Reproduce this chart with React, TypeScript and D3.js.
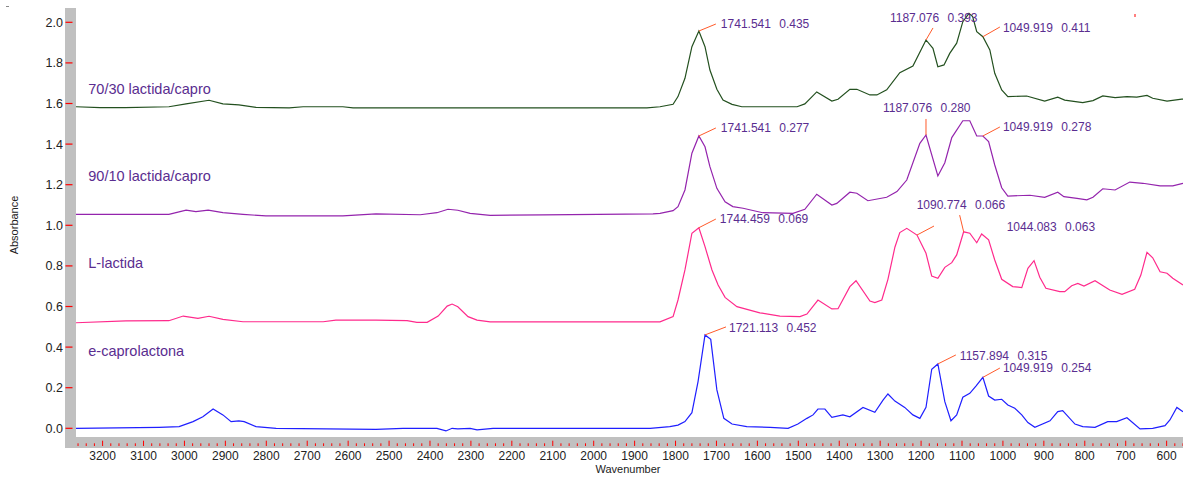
import * as d3 from 'd3';

// FTIR spectra, [wavenumber, absorbance]
const spectrum7030: [number, number][] = [
  [3265, 1.584], [3206, 1.580], [3145, 1.580], [3038, 1.584], [2996, 1.598], [2940, 1.616], [2906, 1.598],
  [2867, 1.593], [2825, 1.581], [2744, 1.578], [2710, 1.584], [2613, 1.584], [2588, 1.578], [1870, 1.578],
  [1838, 1.584], [1806, 1.596], [1794, 1.634], [1777, 1.724], [1760, 1.880], [1743, 1.957], [1728, 1.880],
  [1716, 1.765], [1699, 1.670], [1684, 1.617], [1662, 1.596], [1638, 1.584], [1503, 1.584], [1484, 1.598],
  [1455, 1.657], [1418, 1.612], [1403, 1.621], [1374, 1.670], [1357, 1.670], [1325, 1.642], [1308, 1.642],
  [1284, 1.667], [1252, 1.752], [1220, 1.785], [1188, 1.913], [1171, 1.872], [1159, 1.781], [1144, 1.790],
  [1130, 1.847], [1113, 1.897], [1098, 2.003], [1083, 2.044], [1074, 2.028], [1064, 1.954], [1049, 1.929],
  [1032, 1.864], [1020, 1.749], [1003, 1.667], [988, 1.634], [942, 1.637], [898, 1.612], [866, 1.631],
  [849, 1.617], [805, 1.604], [780, 1.614], [756, 1.637], [726, 1.629], [697, 1.634], [673, 1.631],
  [648, 1.640], [634, 1.626], [599, 1.612], [563, 1.622], [560, 1.622],
];

const spectrum9010: [number, number][] = [
  [3265, 1.054], [3038, 1.054], [2996, 1.075], [2972, 1.067], [2942, 1.075], [2906, 1.062], [2857, 1.054],
  [2801, 1.046], [2613, 1.046], [2532, 1.056], [2424, 1.052], [2383, 1.062], [2356, 1.079], [2332, 1.074],
  [2302, 1.059], [2253, 1.049], [2124, 1.051], [1855, 1.056], [1838, 1.059], [1806, 1.072], [1794, 1.092],
  [1777, 1.174], [1760, 1.355], [1743, 1.440], [1728, 1.387], [1716, 1.289], [1699, 1.182], [1679, 1.116],
  [1660, 1.092], [1635, 1.084], [1587, 1.062], [1513, 1.059], [1484, 1.079], [1455, 1.153], [1418, 1.100],
  [1406, 1.108], [1374, 1.163], [1357, 1.158], [1330, 1.121], [1284, 1.138], [1259, 1.166], [1235, 1.223],
  [1203, 1.404], [1188, 1.445], [1159, 1.243], [1142, 1.308], [1125, 1.432], [1098, 1.515], [1081, 1.515],
  [1064, 1.440], [1049, 1.440], [1035, 1.412], [1020, 1.297], [1003, 1.185], [988, 1.144], [934, 1.148],
  [898, 1.138], [866, 1.163], [851, 1.141], [819, 1.133], [795, 1.125], [780, 1.138], [756, 1.180],
  [726, 1.174], [690, 1.213], [658, 1.207], [616, 1.194], [585, 1.194], [560, 1.207],
];

const spectrumLactida: [number, number][] = [
  [3265, 0.520], [3143, 0.529], [3038, 0.530], [3003, 0.553], [2967, 0.542], [2940, 0.552], [2906, 0.537],
  [2857, 0.525], [2661, 0.525], [2630, 0.533], [2532, 0.533], [2456, 0.530], [2432, 0.522], [2407, 0.522],
  [2380, 0.553], [2358, 0.602], [2346, 0.612], [2332, 0.599], [2307, 0.550], [2285, 0.533], [2253, 0.524],
  [1838, 0.524], [1806, 0.550], [1794, 0.632], [1777, 0.780], [1760, 0.961], [1743, 0.988], [1728, 0.895],
  [1711, 0.780], [1696, 0.706], [1679, 0.645], [1650, 0.599], [1594, 0.569], [1545, 0.553], [1496, 0.550],
  [1479, 0.563], [1452, 0.632], [1418, 0.588], [1403, 0.589], [1374, 0.698], [1359, 0.727], [1325, 0.627],
  [1313, 0.619], [1296, 0.632], [1281, 0.734], [1264, 0.892], [1252, 0.964], [1235, 0.985], [1210, 0.952],
  [1188, 0.862], [1174, 0.750], [1159, 0.739], [1142, 0.793], [1125, 0.816], [1113, 0.854], [1096, 0.968],
  [1081, 0.961], [1064, 0.914], [1052, 0.957], [1035, 0.928], [1020, 0.829], [1003, 0.734], [976, 0.698],
  [954, 0.693], [939, 0.788], [924, 0.826], [910, 0.744], [895, 0.690], [861, 0.673], [849, 0.673],
  [832, 0.702], [817, 0.714], [802, 0.701], [775, 0.727], [739, 0.681], [709, 0.660], [678, 0.685],
  [663, 0.755], [648, 0.867], [634, 0.840], [616, 0.771], [599, 0.764], [585, 0.739], [560, 0.706],
];

const spectrumCapro: [number, number][] = [
  [3265, 0.000], [3062, 0.005], [3013, 0.008], [2979, 0.033], [2955, 0.057], [2930, 0.095], [2906, 0.066],
  [2886, 0.033], [2867, 0.037], [2854, 0.033], [2825, 0.008], [2776, 0.000], [2532, -0.005], [2466, 0.000],
  [2383, 0.000], [2361, -0.013], [2346, 0.000], [2332, -0.003], [2302, 0.000], [2285, -0.008], [2246, 0.000],
  [1862, 0.000], [1814, 0.008], [1794, 0.016], [1777, 0.033], [1760, 0.077], [1745, 0.230], [1728, 0.460],
  [1714, 0.438], [1699, 0.189], [1682, 0.049], [1662, 0.021], [1626, 0.008], [1569, 0.005], [1525, 0.000],
  [1501, 0.021], [1479, 0.049], [1464, 0.066], [1452, 0.095], [1435, 0.095], [1418, 0.054], [1391, 0.066],
  [1374, 0.057], [1342, 0.103], [1313, 0.079], [1293, 0.139], [1281, 0.169], [1264, 0.134], [1240, 0.103],
  [1220, 0.066], [1203, 0.049], [1188, 0.103], [1174, 0.291], [1159, 0.317], [1142, 0.131], [1127, 0.037],
  [1113, 0.066], [1098, 0.153], [1081, 0.172], [1066, 0.208], [1049, 0.251], [1035, 0.159], [1020, 0.139],
  [1003, 0.143], [988, 0.115], [971, 0.099], [954, 0.066], [939, 0.028], [922, 0.005], [885, 0.037],
  [866, 0.082], [854, 0.087], [824, 0.021], [805, 0.008], [775, 0.005], [744, 0.033], [722, 0.033],
  [697, 0.052], [665, -0.003], [634, 0.000], [604, 0.013], [592, 0.041], [575, 0.103], [560, 0.082],
];

const seriesNames = ['70/30 lactida/capro', '90/10 lactida/capro', 'L-lactida', 'e-caprolactona'];
const seriesData = [spectrum7030, spectrum9010, spectrumLactida, spectrumCapro];
const seriesColors = ['#23501f', '#9424ad', '#ff2a8c', '#1f1fff'];
// where each series name sits, [wavenumber, absorbance]
const seriesLabelAt: [number, number][] = [[3235, 1.647], [3235, 1.218], [3235, 0.790], [3235, 0.356]];

// peak picks: series, wavenumber, label, leader offset, text offset (px)
const peakNotes = [
  { s: 0, wn: 1743, a: '1741.541', b: '0.435', lead: [17, -7], txt: [22, -7] },
  { s: 0, wn: 1188, a: '1187.076', b: '0.393', lead: [7, -12], txt: [-36, -22.7] },
  { s: 0, wn: 1049, a: '1049.919', b: '0.411', lead: [17, -9.7], txt: [20, -9.4] },
  { s: 1, wn: 1743, a: '1741.541', b: '0.277', lead: [17, -8], txt: [22, -8.7] },
  { s: 1, wn: 1188, a: '1187.076', b: '0.280', lead: [0, -16], txt: [-43, -27.7] },
  { s: 1, wn: 1049, a: '1049.919', b: '0.278', lead: [17, -9], txt: [20, -9.3] },
  { s: 2, wn: 1743, a: '1744.459', b: '0.069', lead: [17, -8.7], txt: [21, -8.7] },
  { s: 2, wn: 1096, a: '1090.774', b: '0.066', lead: [-4, -16.7], txt: [-47, -26.7] },
  { s: 2, wn: 1210, a: '', b: '', lead: [17, -9], txt: [0, 0] },
  { s: 2, wn: 1052, a: '1044.083', b: '0.063', lead: null, txt: [25, -7.3] },
  { s: 3, wn: 1728, a: '1721.113', b: '0.452', lead: [21, -8], txt: [24, -7.7] },
  { s: 3, wn: 1159, a: '1157.894', b: '0.315', lead: [18, -9], txt: [22, -8.3] },
  { s: 3, wn: 1049, a: '1049.919', b: '0.254', lead: [17, -9.3], txt: [20, -9.6] },
];

const xTicks = d3.range(3260, 559, -20);
const xLabels = d3.range(3200, 599, -100);
const yTicks = d3.range(0, 2.01, 0.2);

const W = 1183;
const H = 478;
const plot = { left: 76, right: 1183, top: 8, bottom: 437 };

export default function App() {
  const x = d3.scaleLinear().domain([3265, 560]).range([plot.left, plot.right]);
  const y = d3.scaleLinear().domain([0, 2]).range([428.3, 22.3]);
  const line = d3.line<[number, number]>().x(d => x(d[0])).y(d => y(d[1]));

  const valueAt = (data: [number, number][], wn: number) => {
    const p = data.find(d => d[0] === wn);
    return p ? p[1] : 0;
  };

  const textColor = '#5a2d90';
  const leadColor = '#ff5a2a';

  return (
    <svg width={W} height={H} style={{ position: 'absolute', left: 0, top: 0, background: '#fff' }}
      fontFamily="'Liberation Sans', Arial, sans-serif">
      <defs>
        <clipPath id="plotClip">
          <rect x={plot.left} y={plot.top} width={plot.right - plot.left} height={plot.bottom - plot.top} />
        </clipPath>
      </defs>

      {/* gray frame */}
      <rect x={65} y={plot.top} width={plot.left - 65} height={448 - plot.top} fill="#c0c0c0" />
      <rect x={65} y={plot.bottom} width={plot.right - 65} height={11} fill="#c0c0c0" />

      {/* y axis */}
      {yTicks.map(t => (
        <g key={t}>
          <line x1={65.5} x2={72.5} y1={y(t)} y2={y(t)} stroke="#ff0000" strokeWidth={1.2} />
          <text x={63} y={y(t) + 4.5} fontSize={12.5} textAnchor="end" fill="#222">{t.toFixed(1)}</text>
        </g>
      ))}
      <text transform="translate(18,225) rotate(-90)" fontSize={11} textAnchor="middle" fill="#222">Absorbance</text>

      {/* x axis */}
      {xTicks.map(t => (
        <line key={t} x1={x(t)} x2={x(t)} y1={t % 100 === 0 ? 440.7 : 443.3} y2={446}
          stroke="#ff0000" strokeWidth={1} />
      ))}
      {xLabels.map(t => (
        <text key={t} x={x(t)} y={459.5} fontSize={12} textAnchor="middle" fill="#222">{t}</text>
      ))}
      <text x={628} y={473} fontSize={11} textAnchor="middle" fill="#222">Wavenumber</text>

      {/* spectra */}
      <g clipPath="url(#plotClip)">
        {seriesData.map((d, i) => (
          <path key={i} d={line(d) ?? ''} fill="none" stroke={seriesColors[i]} strokeWidth={1.2} />
        ))}
      </g>

      {seriesNames.map((n, i) => (
        <text key={n} x={x(seriesLabelAt[i][0])} y={y(seriesLabelAt[i][1])} fontSize={14.5} fill={textColor}>{n}</text>
      ))}

      {/* peak picks */}
      {peakNotes.map((p, i) => {
        const px = x(p.wn);
        const py = y(valueAt(seriesData[p.s], p.wn));
        return (
          <g key={i}>
            {p.lead && (
              <line x1={px} y1={py} x2={px + p.lead[0]} y2={py + p.lead[1]} stroke={leadColor} strokeWidth={1} />
            )}
            {p.a && (
              <text x={px + p.txt[0]} y={py + p.txt[1] + 4.3} fontSize={12} fill={textColor}>
                {p.a} <tspan dx={5}>{p.b}</tspan>
              </text>
            )}
          </g>
        );
      })}

      {/* stray marks */}
      <line x1={1135} x2={1135} y1={14} y2={17} stroke="#ff0000" strokeWidth={1} />
      <line x1={6} x2={9} y1={6.5} y2={6.5} stroke="#888" strokeWidth={1} />
    </svg>
  );
}
